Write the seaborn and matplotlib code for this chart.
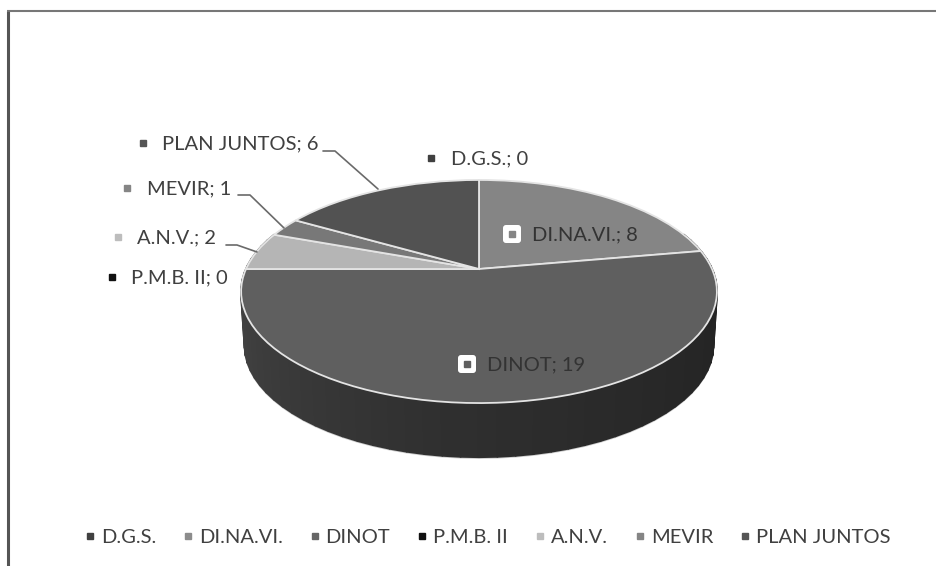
import numpy as np
import matplotlib
matplotlib.use("Agg")
import matplotlib.pyplot as plt
import matplotlib.transforms as mtransforms
from matplotlib.lines import Line2D
from matplotlib.patches import FancyBboxPatch
import seaborn as sns

categories = ["D.G.S.", "DI.NA.VI.", "DINOT", "P.M.B. II", "A.N.V.", "MEVIR", "PLAN JUNTOS"]
values = [0, 8, 19, 0, 2, 1, 6]
colors = ["#404040", "#858585", "#5f5f5f", "#111111", "#b5b5b5", "#787878", "#525252"]
legend_colors = ["#404040", "#8c8c8c", "#666666", "#111111", "#bdbdbd", "#858585", "#555555"]

sns.set_theme(style="white")
plt.rcParams["font.family"] = ["Lato", "DejaVu Sans"]
TEXT = "#404040"
FS = 14.5


class Tilt(mtransforms.Transform):
    """Perspective view of the unit-circle pie, in pixel-like data units."""
    input_dims = 2
    output_dims = 2
    is_separable = False
    has_inverse = False
    cx, cy, A, B, k = 479.0, 269.0, 233.0, 107.0, 0.2018

    def transform_non_affine(self, values):
        v = np.asarray(values, dtype=float)
        w = 1 + self.k * v[:, 1]
        return np.column_stack([self.cx + self.A * v[:, 0] / w,
                                self.cy - self.B * v[:, 1] / w])


fig = plt.figure(figsize=(9.37, 5.66), dpi=100)
ax = fig.add_axes([0, 0, 1, 1])
wedges, _ = ax.pie(values, colors=colors, startangle=90, counterclock=False,
                   wedgeprops=dict(edgecolor="#e4e4e4", linewidth=1.3))
ax.set_aspect("auto")
ax.set_xlim(0, 937)
ax.set_ylim(566, 0)
ax.set_axis_off()

tilt = Tilt()
for w in wedges:
    w.set_transform(tilt + ax.transData)
    w.set_zorder(3)

# side wall of the disc
DEPTH, SHRINK = 54.0, 0.985
n_side = 60
t = np.radians(np.linspace(160, 380, n_side + 1))
top = tilt.transform_non_affine(np.column_stack([np.cos(t), np.sin(t)]))
bot = np.column_stack([tilt.cx + (top[:, 0] - tilt.cx) * SHRINK, top[:, 1] + DEPTH])
shades = sns.blend_palette(["#4c4c4c", "#3c3c3c", "#2e2e2e", "#262626", "#222222"], n_side)
for i in range(n_side):
    xs = [top[i, 0], top[i + 1, 0], bot[i + 1, 0], bot[i, 0]]
    ys = [top[i, 1], top[i + 1, 1], bot[i + 1, 1], bot[i, 1]]
    ax.fill(xs, ys, color=shades[i], lw=1.5, zorder=2, joinstyle="round")
ax.plot(bot[:, 0], bot[:, 1] + 1.2, color="#cfcfcf", lw=1.0, zorder=1)

# chart frame (top and left only)
ax.plot([8, 8], [566, 11], color="#555555", lw=2.2, zorder=5, solid_capstyle="butt")
ax.plot([7, 937], [11, 11], color="#777777", lw=1.5, zorder=5, solid_capstyle="butt")

# leader lines
leaders = [([323, 335, 378], [151, 151, 189]),
           ([238, 250, 284], [195, 195, 228]),
           ([226, 237, 257], [245, 245, 252])]
for lx, ly in leaders:
    ax.plot(lx, ly, color="#6a6a6a", lw=1.2, zorder=4)

# outer data labels: (category index, marker x, text x, y)
outer = [(6, 143, 162, 143), (0, 431, 451, 158), (5, 127, 147, 188),
         (4, 118, 137, 237), (3, 112, 131, 277)]
for idx, mx, tx, y in outer:
    ax.plot([mx], [y], "s", ms=4.5, color=legend_colors[idx], zorder=6)
    ax.text(tx, y + 0.5, f"{categories[idx]}; {values[idx]}", fontsize=FS, color=TEXT,
            va="center", ha="left", zorder=6)

# inner data labels with white rounded marker
inner = [(1, 512, 532, 234), (2, 467, 487, 364)]
for idx, mx, tx, y in inner:
    ax.add_patch(FancyBboxPatch((mx - 6.5, y - 6.5), 13, 13,
                                boxstyle="round,pad=2.5,rounding_size=3",
                                fc="white", ec="none", zorder=6))
    ax.plot([mx], [y], "s", ms=5, color=colors[idx], zorder=7)
    ax.text(tx, y + 0.5, f"{categories[idx]}; {values[idx]}", fontsize=FS, color="#333333",
            va="center", ha="left", zorder=7)

handles = [Line2D([], [], ls="", marker="s", ms=4.5, color=c) for c in legend_colors]
ax.legend(handles, categories, ncol=7, frameon=False, loc="center",
          bbox_to_anchor=(485 / 937, 1 - 537 / 566), fontsize=FS, labelcolor=TEXT,
          handletextpad=0.05, columnspacing=1.08, handlelength=1.0, borderpad=0)

fig.savefig("out.png", dpi=100, facecolor="white")
